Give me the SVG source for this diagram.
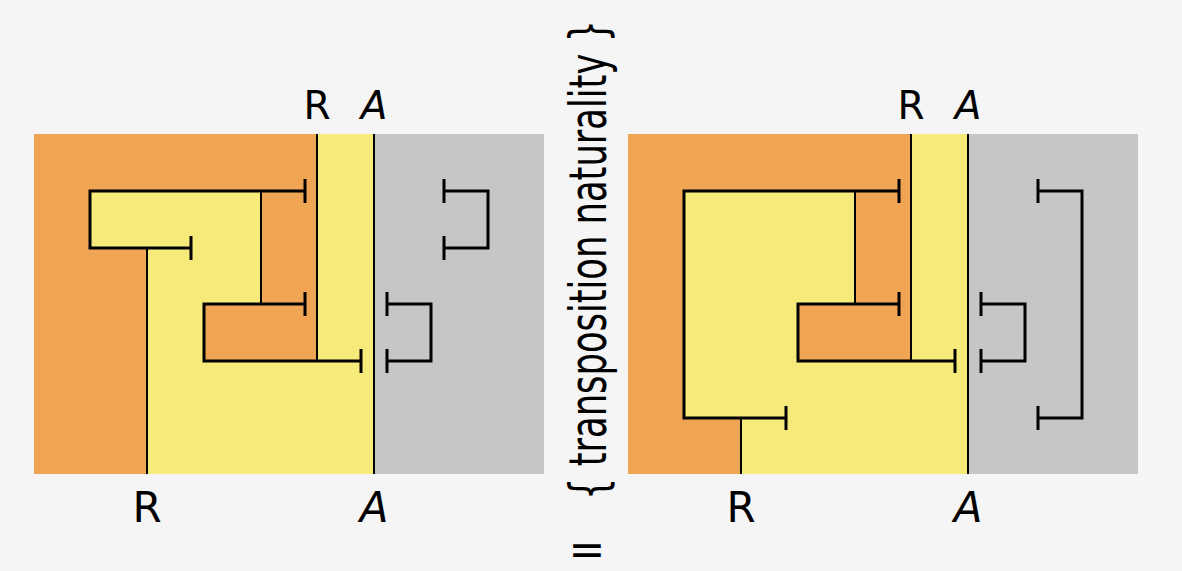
<svg xmlns="http://www.w3.org/2000/svg" width="1182" height="571" viewBox="0 0 1182 571">
<style>
.or{fill:#F0A555}
.ye{fill:#F6EA7A}
.gr{fill:#C6C6C6}
.w{stroke:#000;stroke-width:2;fill:none}
.b{stroke:#000;stroke-width:3;fill:none;stroke-linejoin:miter;stroke-linecap:butt}
.lbl{font-family:"DejaVu Sans","Liberation Sans",sans-serif;fill:#000;text-anchor:middle}
.it{font-style:italic}
</style>
<rect width="1182" height="571" fill="#F5F5F5"/>
<g id="left">
<g id="left-regions">
<rect class="or" x="34" y="134" width="340" height="340"/>
<rect class="gr" x="374" y="134" width="170" height="340"/>
<polygon class="ye" points="317,134 374,134 374,474 147,474 147,248 90,248 90,191 261,191 261,304 204,304 204,361 317,361"/>
</g>
<g id="left-connectors">
<path class="w" d="M317,134V361M374,134V474M147,248V474M261,191V304"/>
<path class="b" d="M305,191H90V248H191M305,304H204V361H361M444,191H488V248H444M387,304H431V361H387"/>
<path class="b" d="M305,179V203M191,236V260M305,292V316M361,349V373M444,179V203M444,236V260M387,292V316M387,349V373"/>
</g>
<g id="left-labels">
<text class="lbl" x="317" y="119" font-size="39">R</text>
<text class="lbl it" x="374" y="119" font-size="39">A</text>
<text class="lbl" x="147" y="522" font-size="42">R</text>
<text class="lbl it" x="374" y="522" font-size="42">A</text>
</g>
</g>
<g id="right">
<g id="right-regions">
<rect class="or" x="628" y="134" width="340" height="340"/>
<rect class="gr" x="968" y="134" width="170" height="340"/>
<polygon class="ye" points="911,134 968,134 968,474 741,474 741,418 684,418 684,191 855,191 855,304 798,304 798,361 911,361"/>
</g>
<g id="right-connectors">
<path class="w" d="M911,134V361M968,134V474M741,418V474M855,191V304"/>
<path class="b" d="M899,191H684V418H786M899,304H798V361H955M1038,191H1082V418H1038M981,304H1025V361H981"/>
<path class="b" d="M899,179V203M786,406V430M899,292V316M955,349V373M1038,179V203M1038,406V430M981,292V316M981,349V373"/>
</g>
<g id="right-labels">
<text class="lbl" x="911" y="119" font-size="39">R</text>
<text class="lbl it" x="968" y="119" font-size="39">A</text>
<text class="lbl" x="741" y="522" font-size="42">R</text>
<text class="lbl it" x="968" y="522" font-size="42">A</text>
</g>
</g>
<g id="middle">
<text class="lbl" transform="translate(606,260) rotate(-90)" font-size="52" textLength="480" lengthAdjust="spacingAndGlyphs">{ transposition naturality }</text>
<text class="lbl" x="587" y="565" font-size="44">=</text>
</g>
</svg>
